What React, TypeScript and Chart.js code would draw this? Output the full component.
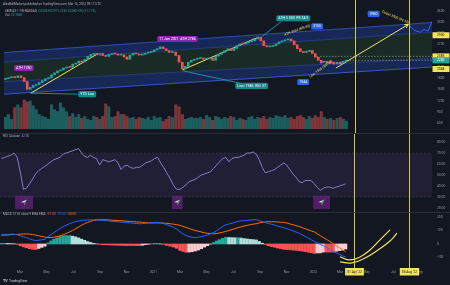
import React, { useEffect, useRef } from "react";
import { Chart, registerables } from "chart.js";

Chart.register(...registerables);

const FONT = "Roboto, 'Noto Sans', 'DejaVu Sans', sans-serif";
Chart.defaults.font.family = FONT;

// ---------------- time axis ----------------
const X_MIN = 0.5; // months since Jan 2020
const X_MAX = 32.9;
const MONTH_TICKS = [2, 4, 6, 8, 10, 12, 14, 16, 18, 20, 22, 24, 26, 28, 30, 32];
const MONTH_LABELS = ["Mar", "May", "Jul", "Sep", "Nov", "2021", "Mar", "May", "Jul", "Sep", "Nov", "2022", "Mar", "May", "Jul", "Sep"];
const FIRST_WEEK = "2020-01-20";

// ---------------- weekly data ----------------
const FIRST_OPEN = 1770;
const CLOSES = [
  1790, 1816, 1841, 1816, 1867, 1816, 1712, 1505, 1557, 1609,
  1635, 1686, 1738, 1790, 1816, 1893, 1945, 1997, 2023, 2074,
  2100, 2090, 2178, 2204, 2260, 2235, 2307, 2385, 2436, 2462,
  2436, 2462, 2410, 2385, 2436, 2462, 2450, 2420, 2430, 2370,
  2310, 2420, 2470, 2450, 2420, 2440, 2470, 2490, 2510, 2560,
  2590, 2640, 2590, 2540, 2490, 2500, 2410, 2230, 2050, 2120,
  2230, 2280, 2310, 2330, 2340, 2310, 2320, 2340, 2280, 2390,
  2440, 2490, 2540, 2590, 2540, 2595, 2670, 2720, 2715, 2750,
  2775, 2800, 2850, 2900, 2800, 2670, 2640, 2650, 2670, 2720,
  2770, 2800, 2825, 2850, 2800, 2695, 2590, 2515, 2490, 2520,
  2545, 2460, 2360, 2280, 2230, 2255, 2200, 2230, 2180, 2230,
  2205, 2255, 2280,
];
const VOLUMES = [
  12, 15, 10, 22, 25, 22, 30, 28, 29, 24,
  20, 15, 13, 12, 10, 25, 20, 18, 27, 22,
  18, 13, 16, 12, 15, 11, 13, 10, 9, 13,
  12, 10, 13, 26, 23, 12, 13, 18, 15, 15,
  13, 11, 12, 10, 12, 11, 10, 12, 9, 13,
  11, 12, 8, 10, 13, 12, 25, 23, 15, 10,
  11, 12, 11, 11, 12, 10, 14, 12, 9, 13,
  12, 10, 12, 11, 13, 12, 9, 11, 10, 9,
  12, 13, 10, 12, 11, 13, 10, 12, 11, 14,
  13, 12, 14, 11, 12, 10, 13, 14, 12, 10,
  13, 11, 14, 12, 18, 12, 10, 11, 9, 11,
  12, 10, 8,
];
const RSI = [
  65, 66, 67, 68, 70, 66, 52, 37, 38, 42,
  46, 51, 54, 56, 58, 60, 62, 64, 65, 66,
  69, 70, 71, 72, 73, 74, 70, 67, 66, 68,
  66, 65, 59, 64, 63, 62, 63, 64, 61, 55,
  58, 59, 57, 56, 57, 57, 59, 61, 62, 63,
  65, 66, 61, 57, 52, 47, 41, 37, 37, 39,
  41, 44, 45, 46, 48, 50, 51, 52, 53, 56,
  59, 62, 65, 66, 62, 65, 66, 66, 67, 68,
  70, 70, 71, 69, 64, 57, 52, 53, 54, 55,
  57, 59, 61, 59, 55, 51, 48, 44, 43, 45,
  45, 45, 42, 39, 36, 38, 39, 39, 38, 39,
  40, 41, 42,
];
const MACD = [
  70, 71, 71, 72, 72, 68, 60, 53, 47, 38,
  31, 25, 28, 31, 35, 55, 70, 85, 100, 115,
  128, 140, 150, 158, 165, 170, 174, 177, 178, 179,
  179, 179, 177, 175, 173, 171, 168, 166, 164, 162,
  160, 158, 156, 154, 152, 150, 151, 153, 155, 158,
  160, 160, 157, 152, 143, 134, 124, 111, 90, 75,
  62, 55, 50, 48, 50, 54, 60, 67, 76, 85,
  99, 114, 129, 142, 148, 154, 160, 167, 171, 173,
  175, 177, 179, 180, 175, 166, 159, 152, 146, 140,
  133, 127, 121, 114, 106, 98, 89, 80, 68, 56,
  44, 32, 20, 9, -4, -12, -25, -40, -56, -66,
  -77, -88, -95,
];
const SIGNAL = [
  65, 66, 67, 69, 70, 71, 73, 74, 75, 73,
  70, 66, 61, 56, 51, 48, 48, 50, 55, 60,
  68, 78, 88, 100, 112, 125, 138, 150, 160, 168,
  174, 178, 180, 180, 179, 178, 176, 175, 174, 172,
  171, 169, 167, 165, 164, 162, 160, 158, 157, 156,
  156, 156, 156, 155, 153, 150, 147, 143, 138, 130,
  123, 115, 107, 100, 95, 89, 83, 79, 77, 75,
  77, 82, 87, 93, 100, 107, 114, 121, 127, 133,
  138, 143, 147, 150, 156, 160, 163, 165, 165, 164,
  163, 161, 160, 155, 149, 143, 136, 130, 121, 113,
  105, 97, 90, 76, 62, 48, 35, 20, 4, -12,
  -28, -43, -58,
];
const LAST_HIGH = 2297;
const LAST_LOW = 2236;
const VOL_TEXT = "29.186K";

// ---------------- axes ----------------
const PRICE_MIN = 445;
const PRICE_MAX = 3678;
const PRICE_TICKS = [600, 900, 1200, 1500, 1800, 2100, 2400, 2700, 3000, 3300, 3600];
const VOL_MAX = 125;
const RSI_MIN = 16.4;
const RSI_MAX = 88.2;
const RSI_TICKS = [20, 30, 40, 50, 60, 70, 80];
const RSI_BAND = [70, 30];
const MACD_MIN = -178;
const MACD_MAX = 237;
const MACD_TICKS = [-100, 0, 100, 200];

// ---------------- drawings ----------------
const CHANNEL_M = [0.5, 32.9];
const CHANNEL_TOP = [2488, 3290];
const CHANNEL_UPPER = [2229, 3031];
const CHANNEL_LOWER = [1712, 2333];
const CHANNEL_BOTTOM = [1376, 2100];

const TREND_A_M = [2.525, 7.625];
const TREND_A_P = [1402, 2462];
const TREND_B_M = [14.0, 19.775];
const TREND_B_P = [2023, 2902];
const TREND_C_M = [25.625, 31.1];
const TREND_C_P = [2074, 3238];
const PATH_M = [31.1, 31.55, 32.0, 32.3, 32.6, 32.9];
const PATH_P = [3238, 3083, 3031, 3109, 3057, 3316];
const DOT_WEEKS = [104, 107, 110];

const LEVELS = [2950, 2385, 2048];
const LEVEL_LINE_START = 24.2;

const CURVE1_M = [26.0, 26.75, 27.5, 28.25, 29.0, 29.75];
const CURVE1_V = [-96, -118, -96, -44, 30, 104];
const CURVE2_M = [26.0, 26.9, 27.875, 28.85, 29.75, 30.275];
const CURVE2_V = [-133, -140, -104, -44, 22, 81];

const VLINE_M = [27.05, 31.18];
const VLINE_LABELS = ["01 Apr '22", "05 Aug '22"];

const NOTE_LABELS = [
  { text: "ATH 1780", m: 2.0, v: 2074, bg: "#8e24aa" },
  { text: "YTD Low", m: 6.8, v: 1376, bg: "#138a8c" },
  { text: "11 Jan 2021  ATH 2786", m: 13.63, v: 2850, bg: "#8e24aa" },
  { text: "Low: 1986  RSI: 37", m: 19.25, v: 1596, bg: "#138a8c" },
  { text: "ATH 3 000  PE 34.9", m: 22.4, v: 3406, bg: "#138a8c" },
  { text: "3155", m: 24.2, v: 3186, bg: "#2962ff" },
  { text: "3960", m: 28.48, v: 3522, bg: "#2962ff" },
  { text: "1944", m: 23.15, v: 1699, bg: "#2962ff" },
];
const NOTE_POINTERS = [
  { m: [2.525, 6.05], v: [1402, 1376] },
  { m: [14.075, 18.5], v: [1997, 1660] },
  { m: [20.075, 21.5], v: [2928, 3316] },
];
const SLANTED_NOTES = [
  { text: "ATH 3024 (RSI 83)", m: 22.7, v: 3083, angle: -20 },
  { text: "Target 3500 (PE 35)", m: 30.125, v: 3432, angle: 23 },
  { text: "Low: 1966 (RSI 37)", m: 24.5, v: 2048, angle: -36 },
];
const RSI_MARKS = [
  { m: [1.63, 2.98] },
  { m: [13.4, 14.2] },
  { m: [23.98, 25.25] },
];
const RSI_MARK_RANGE = [19, 31];

// ---------------- derived tables ----------------
function monthIndex(t: number) {
  const d = new Date(t);
  const y = d.getUTCFullYear();
  const mo = d.getUTCMonth();
  const dim = new Date(Date.UTC(y, mo + 1, 0)).getUTCDate();
  return (y - 2020) * 12 + mo + (d.getUTCDate() - 1) / dim;
}
const WEEK0 = Date.parse(FIRST_WEEK + "T00:00:00Z");
const WEEK_M = CLOSES.map((_, i) => monthIndex(WEEK0 + i * 7 * 86400000));
const OPENS = CLOSES.map((c, i) => (i === 0 ? FIRST_OPEN : CLOSES[i - 1]));
const HIST = MACD.map((v, i) => v - SIGNAL[i]);

const BG = "#131722";
const AXIS_TEXT = "#9598a1";
const UP = "#26a69a";
const DOWN = "#ef5350";
const YELLOW = "#f2e35c";
const VLINE_COLOR = "rgba(226,211,62,0.95)";
const TICK_FONT = { family: FONT, size: 3.3 };

const pts = (ms: number[], vs: number[]) => ms.map((m, i) => ({ x: m, y: vs[i] }));

function xScale(show: boolean) {
  return {
    type: "linear",
    min: X_MIN,
    max: X_MAX,
    offset: false,
    display: show,
    grid: { display: false, drawTicks: false, offset: false },
    border: { display: false },
    afterBuildTicks: (s: any) => {
      s.ticks = MONTH_TICKS.map((v) => ({ value: v }));
    },
    afterFit: (s: any) => {
      if (show) s.height = 17;
      s.paddingLeft = 0;
      s.paddingRight = 0;
    },
    ticks: {
      autoSkip: false,
      maxRotation: 0,
      minRotation: 0,
      padding: 2.5,
      color: AXIS_TEXT,
      font: TICK_FONT,
      callback: (v: any) => {
        const k = MONTH_TICKS.indexOf(Number(v));
        return k >= 0 ? MONTH_LABELS[k] : "";
      },
    },
  };
}

function yScale(min: number, max: number, ticks: number[], fmt: (v: number) => string) {
  return {
    type: "linear",
    position: "right",
    min,
    max,
    beginAtZero: false,
    grid: { display: false, drawTicks: false },
    border: { display: false },
    afterBuildTicks: (s: any) => {
      s.ticks = ticks.map((v) => ({ value: v }));
    },
    afterFit: (s: any) => {
      s.width = 18;
      s.paddingTop = 0;
      s.paddingBottom = 0;
    },
    ticks: { padding: 5, color: AXIS_TEXT, font: TICK_FONT, callback: (v: any) => fmt(Number(v)) },
  };
}

function rrect(ctx: CanvasRenderingContext2D, x: number, y: number, w: number, h: number, r: number) {
  ctx.beginPath();
  if ((ctx as any).roundRect) (ctx as any).roundRect(x, y, w, h, r);
  else ctx.rect(x, y, w, h);
}

function noteBox(ctx: CanvasRenderingContext2D, cx: number, cy: number, text: string, bg: string, fg: string, size: number) {
  ctx.save();
  ctx.font = `${size}px ${FONT}`;
  const w = ctx.measureText(text).width + 4;
  const h = size + 2.6;
  ctx.fillStyle = bg;
  rrect(ctx, cx - w / 2, cy - h / 2, w, h, 1.5);
  ctx.fill();
  ctx.fillStyle = fg;
  ctx.textAlign = "center";
  ctx.textBaseline = "middle";
  ctx.fillText(text, cx, cy + 0.2);
  ctx.restore();
}

function segs(ctx: CanvasRenderingContext2D, x: number, y: number, parts: [string, string][], size: number) {
  ctx.save();
  ctx.font = `${size}px ${FONT}`;
  ctx.textBaseline = "middle";
  ctx.textAlign = "left";
  let cx = x;
  for (const [t, c] of parts) {
    ctx.fillStyle = c;
    ctx.fillText(t, cx, y);
    cx += ctx.measureText(t).width;
  }
  ctx.restore();
}

function drawVLines(chart: any, bottom: number) {
  const { ctx, scales } = chart;
  ctx.save();
  ctx.strokeStyle = VLINE_COLOR;
  ctx.lineWidth = 1;
  VLINE_M.forEach((m) => {
    const px = Math.round(scales.x.getPixelForValue(m)) + 0.5;
    ctx.beginPath();
    ctx.moveTo(px, 0);
    ctx.lineTo(px, bottom);
    ctx.stroke();
  });
  ctx.restore();
}

function separator(chart: any) {
  const { ctx, width } = chart;
  ctx.save();
  ctx.fillStyle = "#2a2e39";
  ctx.fillRect(0, 0, width, 1);
  ctx.restore();
}

const priceOverlay = {
  id: "priceOverlay",
  afterDatasetsDraw(chart: any) {
    const { ctx, chartArea, scales } = chart;
    const X = (m: number) => scales.x.getPixelForValue(m);
    const Y = (v: number) => scales.y.getPixelForValue(v);
    ctx.save();
    ctx.beginPath();
    ctx.rect(chartArea.left, chartArea.top, chartArea.right - chartArea.left, chartArea.bottom - chartArea.top);
    ctx.clip();

    // dashed price lines
    ctx.setLineDash([1.5, 1.5]);
    ctx.lineWidth = 0.7;
    ctx.strokeStyle = "rgba(220,220,220,0.6)";
    const last = CLOSES.length - 1;
    ctx.beginPath();
    ctx.moveTo(X(WEEK_M[last]), Y(CLOSES[last]));
    ctx.lineTo(chartArea.right, Y(CLOSES[last]));
    ctx.moveTo(X(LEVEL_LINE_START), Y(LEVELS[1]));
    ctx.lineTo(chartArea.right, Y(LEVELS[1]));
    ctx.stroke();
    ctx.setLineDash([]);

    // pointers
    ctx.strokeStyle = "#1a9ea0";
    ctx.lineWidth = 0.9;
    NOTE_POINTERS.forEach((p) => {
      ctx.beginPath();
      ctx.moveTo(X(p.m[0]), Y(p.v[0]));
      ctx.lineTo(X(p.m[1]), Y(p.v[1]));
      ctx.stroke();
    });

    // arrow head of the target line
    const x0 = X(TREND_C_M[0]), y0 = Y(TREND_C_P[0]);
    const x1 = X(TREND_C_M[1]), y1 = Y(TREND_C_P[1]);
    const a = Math.atan2(y1 - y0, x1 - x0);
    ctx.strokeStyle = YELLOW;
    ctx.lineWidth = 1;
    ctx.beginPath();
    ctx.moveTo(x1 - 4 * Math.cos(a - 0.5), y1 - 4 * Math.sin(a - 0.5));
    ctx.lineTo(x1, y1);
    ctx.lineTo(x1 - 4 * Math.cos(a + 0.5), y1 - 4 * Math.sin(a + 0.5));
    ctx.stroke();

    // labels
    NOTE_LABELS.forEach((n) => noteBox(ctx, X(n.m), Y(n.v), n.text, n.bg, "#ffffff", 3.5));

    // slanted notes
    SLANTED_NOTES.forEach((n) => {
      ctx.save();
      ctx.translate(X(n.m), Y(n.v));
      ctx.rotate((n.angle * Math.PI) / 180);
      ctx.font = `3.3px ${FONT}`;
      ctx.fillStyle = YELLOW;
      ctx.textAlign = "center";
      ctx.textBaseline = "middle";
      ctx.fillText(n.text, 0, 0);
      ctx.restore();
    });
    ctx.restore();

    drawVLines(chart, chart.height);
  },
  afterDraw(chart: any) {
    const { ctx, chartArea, scales } = chart;
    const Y = (v: number) => scales.y.getPixelForValue(v);
    // axis marks
    const mark = (v: number, bg: string, fg: string) => {
      const y = Y(v);
      ctx.save();
      ctx.fillStyle = bg;
      ctx.fillRect(chartArea.right + 0.5, y - 3, 17, 6);
      ctx.fillStyle = fg;
      ctx.font = `3.3px ${FONT}`;
      ctx.textAlign = "left";
      ctx.textBaseline = "middle";
      ctx.fillText(String(Math.round(v)), chartArea.right + 5, y + 0.2);
      ctx.restore();
    };
    LEVELS.forEach((v) => mark(v, YELLOW, "#131722"));
    const last = CLOSES.length - 1;
    mark(CLOSES[last], CLOSES[last] >= OPENS[last] ? UP : DOWN, "#ffffff");

    // header texts
    segs(ctx, 3, 4, [["AlexBullMarket published on TradingView.com, Mar 16, 2022 09:17 UTC", "#b2b5be"]], 3.1);
    const o = OPENS[last], c = CLOSES[last];
    const ch = c - o;
    segs(
      ctx,
      5,
      11,
      [
        ["SEMIAX\u00b71\u00b71W\u00b7NASDAQ  ", "#b2b5be"],
        [`O${o} H${LAST_HIGH} L${LAST_LOW} C${c} ${ch >= 0 ? "+" : ""}${ch} (${ch >= 0 ? "+" : ""}${((ch / o) * 100).toFixed(2)}%)`, UP],
      ],
      3.1
    );
    segs(ctx, 5, 15.5, [["Vol  ", "#b2b5be"], [VOL_TEXT, UP]], 3.1);
  },
};

const rsiOverlay = {
  id: "rsiOverlay",
  afterDatasetsDraw(chart: any) {
    const { ctx, scales } = chart;
    const X = (m: number) => scales.x.getPixelForValue(m);
    const Y = (v: number) => scales.y.getPixelForValue(v);
    RSI_MARKS.forEach((b) => {
      const xa = X(b.m[0]), xb = X(b.m[1]);
      const ya = Y(RSI_MARK_RANGE[1]), yb = Y(RSI_MARK_RANGE[0]);
      ctx.save();
      ctx.fillStyle = "rgba(142,36,170,0.5)";
      ctx.fillRect(xa, ya, xb - xa, yb - ya);
      const cx = (xa + xb) / 2, cy = (ya + yb) / 2;
      ctx.fillStyle = "#e8f5e9";
      ctx.beginPath();
      ctx.moveTo(cx + 3, cy - 3);
      ctx.lineTo(cx - 3.2, cy - 0.2);
      ctx.lineTo(cx, cy);
      ctx.closePath();
      ctx.fill();
      ctx.fillStyle = "#43b049";
      ctx.beginPath();
      ctx.moveTo(cx + 3, cy - 3);
      ctx.lineTo(cx, cy);
      ctx.lineTo(cx + 0.2, cy + 3.2);
      ctx.closePath();
      ctx.fill();
      ctx.restore();
    });
    drawVLines(chart, chart.height);
    separator(chart);
    segs(ctx, 3, 3.5, [["RSI 14 close  ", "#b2b5be"], [RSI[RSI.length - 1].toFixed(2), "#9a86d6"]], 3.1);
  },
};

const macdOverlay = {
  id: "macdOverlay",
  afterDatasetsDraw(chart: any) {
    drawVLines(chart, chart.chartArea.bottom);
    separator(chart);
    const n = MACD.length - 1;
    segs(
      chart.ctx,
      3,
      2.2,
      [
        ["MACD 12 26 close 9 EMA EMA  ", "#b2b5be"],
        [HIST[n].toFixed(2) + "  ", "#ff5252"],
        [MACD[n].toFixed(2) + "  ", "#2962ff"],
        [SIGNAL[n].toFixed(2), "#ff6d00"],
      ],
      3.1
    );
  },
  afterDraw(chart: any) {
    const { ctx, chartArea, scales } = chart;
    VLINE_M.forEach((m, i) => {
      const x = Math.round(scales.x.getPixelForValue(m)) + 0.5;
      ctx.save();
      ctx.font = `3.3px ${FONT}`;
      const w = ctx.measureText(VLINE_LABELS[i]).width + 4;
      ctx.fillStyle = YELLOW;
      ctx.fillRect(x - w / 2, chartArea.bottom, w, 7.5);
      ctx.fillStyle = "#131722";
      ctx.textAlign = "center";
      ctx.textBaseline = "middle";
      ctx.fillText(VLINE_LABELS[i], x, chartArea.bottom + 3.9);
      ctx.restore();
    });
    // logo
    ctx.save();
    ctx.font = `bold 3.6px ${FONT}`;
    ctx.fillStyle = "#d1d4dc";
    ctx.textBaseline = "middle";
    ctx.fillText("TV", 3, 69.5);
    ctx.font = `3.3px ${FONT}`;
    ctx.fillText("TradingView", 9, 69.5);
    ctx.restore();
  },
};

export default function App() {
  const priceRef = useRef<HTMLCanvasElement>(null);
  const rsiRef = useRef<HTMLCanvasElement>(null);
  const macdRef = useRef<HTMLCanvasElement>(null);

  useEffect(() => {
    const candleColors = CLOSES.map((c, i) => (c >= OPENS[i] ? UP : DOWN));
    const volColors = CLOSES.map((c, i) => (c >= OPENS[i] ? "rgba(38,166,154,0.5)" : "rgba(239,83,80,0.5)"));
    const chLine = (vals: number[], fill: any, bg: string, border: string) => ({
      type: "line",
      data: pts(CHANNEL_M, vals),
      fill,
      backgroundColor: bg,
      borderColor: border,
      borderWidth: 0.8,
      pointRadius: 0,
      order: 20,
    });
    const yLine = (ms: number[], vs: number[], color: string, order: number) => ({
      type: "line",
      data: pts(ms, vs),
      borderColor: color,
      borderWidth: 1,
      pointRadius: 0,
      fill: false,
      order,
    });

    const baseOpts = {
      responsive: false,
      animation: false,
      events: [],
      plugins: { legend: { display: false }, tooltip: { enabled: false } },
    };

    const price = new Chart(priceRef.current!, {
      type: "bar",
      data: {
        datasets: [
          chLine(CHANNEL_TOP, "+1", "rgba(41,98,255,0.24)", "rgba(60,100,230,0.85)"),
          chLine(CHANNEL_UPPER, "+1", "rgba(76,175,80,0.13)", "rgba(60,90,200,0.5)"),
          chLine(CHANNEL_LOWER, "+1", "rgba(41,98,255,0.24)", "rgba(60,90,200,0.5)"),
          chLine(CHANNEL_BOTTOM, false, "transparent", "rgba(70,110,240,0.9)"),
          {
            type: "bar",
            data: VOLUMES.map((v, i) => ({ x: WEEK_M[i], y: v })),
            yAxisID: "yVol",
            backgroundColor: volColors,
            barThickness: 2.4,
            grouped: false,
            order: 15,
          },
          yLine(TREND_A_M, TREND_A_P, YELLOW, 6),
          yLine(TREND_B_M, TREND_B_P, YELLOW, 6),
          yLine(TREND_C_M, TREND_C_P, YELLOW, 6),
          yLine(PATH_M, PATH_P, "#2962ff", 6),
          {
            type: "bar",
            data: CLOSES.map((c, i) => ({ x: WEEK_M[i], y: [OPENS[i], c] })),
            yAxisID: "y",
            backgroundColor: candleColors,
            barThickness: 2,
            minBarLength: 1,
            grouped: false,
            order: 3,
          },
          {
            type: "line",
            data: DOT_WEEKS.map((w) => ({ x: WEEK_M[w], y: CLOSES[w] })),
            showLine: false,
            pointRadius: 1.3,
            pointBackgroundColor: "#e040fb",
            pointBorderWidth: 0,
            order: 2,
          },
        ],
      },
      options: {
        ...baseOpts,
        layout: { padding: { top: 8, left: 0, right: 0, bottom: 0 } },
        scales: {
          x: xScale(false),
          y: yScale(PRICE_MIN, PRICE_MAX, PRICE_TICKS, (v) => String(v)),
          yVol: { display: false, position: "right", min: 0, max: VOL_MAX, beginAtZero: true },
        },
      } as any,
      plugins: [priceOverlay],
    } as any);

    const rsi = new Chart(rsiRef.current!, {
      type: "line",
      data: {
        datasets: [
          {
            data: pts([X_MIN, X_MAX], [RSI_BAND[0], RSI_BAND[0]]),
            fill: "+1",
            backgroundColor: "rgba(126,87,194,0.13)",
            borderColor: "rgba(120,123,134,0.35)",
            borderDash: [2, 2],
            borderWidth: 0.6,
            pointRadius: 0,
          },
          {
            data: pts([X_MIN, X_MAX], [RSI_BAND[1], RSI_BAND[1]]),
            fill: false,
            borderColor: "rgba(120,123,134,0.35)",
            borderDash: [2, 2],
            borderWidth: 0.6,
            pointRadius: 0,
          },
          {
            data: RSI.map((v, i) => ({ x: WEEK_M[i], y: v })),
            fill: false,
            borderColor: "#8e80c8",
            borderWidth: 1,
            pointRadius: 0,
          },
        ],
      },
      options: {
        ...baseOpts,
        layout: { padding: 0 },
        scales: { x: xScale(false), y: yScale(RSI_MIN, RSI_MAX, RSI_TICKS, (v) => v.toFixed(2)) },
      } as any,
      plugins: [rsiOverlay],
    } as any);

    const histColors = HIST.map((h, i) => {
      const p = i > 0 ? HIST[i - 1] : h;
      if (h >= 0) return h >= p ? "#26a69a" : "#b2dfdb";
      return h <= p ? "#ff5252" : "#ffcdd2";
    });

    const macd = new Chart(macdRef.current!, {
      type: "bar",
      data: {
        datasets: [
          {
            type: "bar",
            data: HIST.map((h, i) => ({ x: WEEK_M[i], y: h })),
            backgroundColor: histColors,
            barThickness: 2.7,
            grouped: false,
            order: 5,
          },
          yLine(WEEK_M, MACD, "#2962ff", 2),
          yLine(WEEK_M, SIGNAL, "#ff6d00", 3),
          { ...yLine(CURVE1_M, CURVE1_V, YELLOW, 1), tension: 0.45, borderWidth: 1.2 },
          { ...yLine(CURVE2_M, CURVE2_V, YELLOW, 1), tension: 0.45, borderWidth: 1.2 },
        ],
      },
      options: {
        ...baseOpts,
        layout: { padding: 0 },
        scales: { x: xScale(true), y: yScale(MACD_MIN, MACD_MAX, MACD_TICKS, (v) => String(v)) },
      } as any,
      plugins: [macdOverlay],
    } as any);

    return () => {
      price.destroy();
      rsi.destroy();
      macd.destroy();
    };
  }, []);

  return (
    <div
      style={{
        position: "fixed",
        left: 0,
        top: 0,
        width: 450,
        height: 285,
        background: BG,
        overflow: "hidden",
      }}
    >
      <canvas ref={priceRef} width={450} height={133} style={{ position: "absolute", left: 0, top: 0, width: 450, height: 133 }} />
      <canvas ref={rsiRef} width={450} height={79} style={{ position: "absolute", left: 0, top: 133, width: 450, height: 79 }} />
      <canvas ref={macdRef} width={450} height={73} style={{ position: "absolute", left: 0, top: 212, width: 450, height: 73 }} />
    </div>
  );
}
